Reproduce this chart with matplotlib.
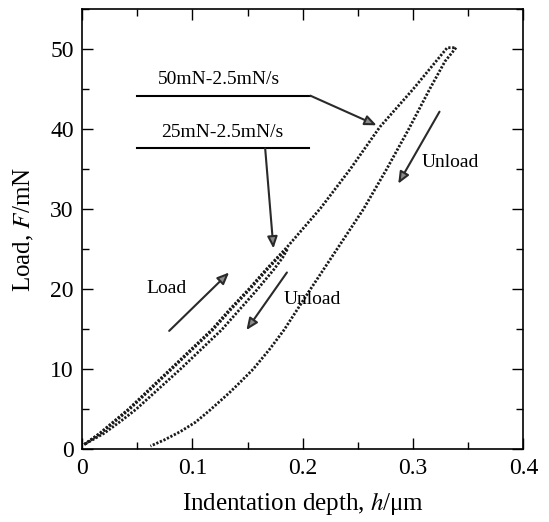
import matplotlib
matplotlib.use("Agg")
import matplotlib.pyplot as plt
from matplotlib.ticker import MultipleLocator

plt.rcParams['font.family'] = ['Liberation Serif', 'DejaVu Serif']
plt.rcParams['mathtext.fontset'] = 'stix'

# 50 mN loading curve (incl. hold at peak)
h_load50 = [0.002, 0.016, 0.029, 0.042, 0.061, 0.080, 0.099, 0.118, 0.134,
            0.151, 0.167, 0.186, 0.216, 0.243, 0.270, 0.300, 0.331, 0.339]
F_load50 = [0.6, 2.0, 3.5, 5.0, 7.5, 10.0, 12.5, 15.0, 17.5,
            20.0, 22.5, 25.3, 30.1, 35.0, 40.3, 45.0, 50.2, 50.2]
# 50 mN unloading curve
h_unl50 = [0.339, 0.329, 0.315, 0.296, 0.276, 0.255, 0.231, 0.207, 0.183,
           0.170, 0.155, 0.142, 0.133, 0.116, 0.103, 0.089, 0.075, 0.062]
F_unl50 = [50.2, 48.5, 45.0, 40.0, 35.0, 30.0, 25.0, 20.0, 14.9,
           12.5, 10.0, 8.2, 7.0, 4.9, 3.4, 2.2, 1.2, 0.4]
# 25 mN loading curve
h_load25 = [0.002, 0.017, 0.030, 0.043, 0.062, 0.081, 0.100, 0.119, 0.135,
            0.152, 0.168, 0.178, 0.186]
F_load25 = [0.6, 2.0, 3.5, 5.0, 7.5, 10.0, 12.5, 15.0, 17.5,
            20.0, 22.5, 24.0, 25.0]
# 25 mN unloading curve
h_unl25 = [0.186, 0.182, 0.174, 0.159, 0.143, 0.127, 0.108, 0.089, 0.069,
           0.049, 0.035, 0.020, 0.002]
F_unl25 = [25.0, 24.0, 22.5, 20.0, 17.5, 15.0, 12.5, 10.0, 7.5,
           5.0, 3.5, 2.0, 0.6]

fig = plt.figure(figsize=(5.49, 5.22), dpi=100)
ax = fig.add_axes([0.1494, 0.1393, 0.8039, 0.8429])

dot = dict(color='#1a1a1a', lw=2.0, ls=(0, (0.8, 0.6)))
ax.plot(h_load50, F_load50, **dot)
ax.plot(h_unl50, F_unl50, **dot)
ax.plot(h_load25, F_load25, **dot)
ax.plot(h_unl25, F_unl25, **dot)

ax.set_xlim(0, 0.4)
ax.set_ylim(0, 55)
ax.xaxis.set_major_locator(MultipleLocator(0.1))
ax.xaxis.set_minor_locator(MultipleLocator(0.05))
ax.yaxis.set_major_locator(MultipleLocator(10))
ax.yaxis.set_minor_locator(MultipleLocator(5))
ax.set_xticks([0, 0.1, 0.2, 0.3, 0.4])
ax.set_xticklabels(['0', '0.1', '0.2', '0.3', '0.4'])
ax.tick_params(which='both', direction='in', top=True, right=True,
               labelsize=17, width=1)
ax.tick_params(which='major', length=8, pad=6)
ax.tick_params(which='minor', length=5)
for s in ax.spines.values():
    s.set_linewidth(1.2)

ax.set_xlabel('Indentation depth, $h$/μm', fontsize=18, labelpad=8)
ax.set_ylabel('Load, $F$/mN', fontsize=18, labelpad=10)

arrow = dict(arrowstyle='-|>,head_length=0.7,head_width=0.3', color='black',
             lw=1.5, fc='#8a8a8a', ec='#2a2a2a', shrinkA=0, shrinkB=0)

# 50 mN label and leader
ax.text(0.124, 46.2, '50mN-2.5mN/s', fontsize=14, ha='center', va='center')
ax.plot([0.050, 0.207], [44.2, 44.2], color='black', lw=1.5)
ax.annotate('', xy=(0.267, 40.5), xytext=(0.207, 44.2), arrowprops=arrow)

# 25 mN label and leader
ax.text(0.127, 39.6, '25mN-2.5mN/s', fontsize=14, ha='center', va='center')
ax.plot([0.0496, 0.206], [37.6, 37.6], color='black', lw=1.5)
ax.annotate('', xy=(0.1735, 25.1), xytext=(0.166, 37.6), arrowprops=arrow)

ax.text(0.077, 20.1, 'Load', fontsize=14, ha='center', va='center')
ax.annotate('', xy=(0.1333, 22.1), xytext=(0.079, 14.8), arrowprops=arrow)

ax.text(0.209, 18.7, 'Unload', fontsize=14, ha='center', va='center')
ax.annotate('', xy=(0.149, 14.9), xytext=(0.1857, 22.1), arrowprops=arrow)

ax.text(0.334, 35.9, 'Unload', fontsize=14, ha='center', va='center')
ax.annotate('', xy=(0.2866, 33.2), xytext=(0.324, 42.2), arrowprops=arrow)

fig.savefig('out.png', dpi=100)
